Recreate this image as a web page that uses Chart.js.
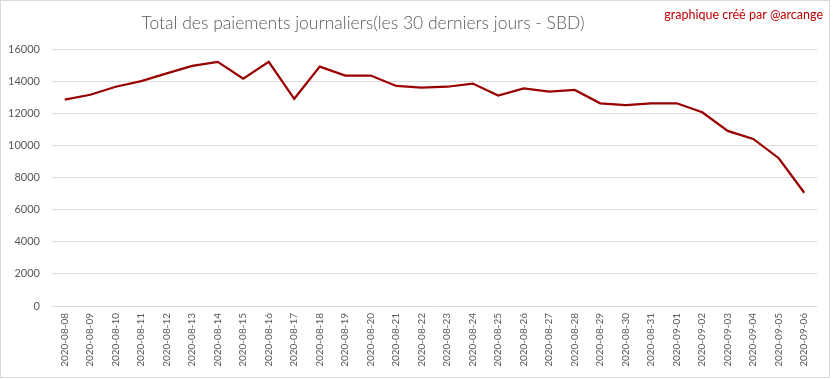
<!DOCTYPE html>
<html><head><meta charset="utf-8">
<script src="https://cdn.jsdelivr.net/npm/chart.js@4/dist/chart.umd.min.js"></script>
<style>html,body{margin:0;padding:0;background:#fff}canvas{display:block}</style>
</head><body>
<canvas id="c" width="833" height="379"></canvas>
<script>
const dates = ["2020-08-08","2020-08-09","2020-08-10","2020-08-11","2020-08-12","2020-08-13","2020-08-14","2020-08-15","2020-08-16","2020-08-17","2020-08-18","2020-08-19","2020-08-20","2020-08-21","2020-08-22","2020-08-23","2020-08-24","2020-08-25","2020-08-26","2020-08-27","2020-08-28","2020-08-29","2020-08-30","2020-08-31","2020-09-01","2020-09-02","2020-09-03","2020-09-04","2020-09-05","2020-09-06"];
const payments = [12850,13150,13650,14000,14480,14950,15200,14150,15200,12900,14900,14350,14350,13700,13600,13650,13850,13100,13550,13350,13450,12620,12500,12620,12620,12060,10900,10400,9200,7050];
const yMin = 0, yMax = 16000, yStep = 2000;
const titleText = "Total des paiements journaliers(les 30 derniers jours - SBD)";
const creditText = "graphique créé par @arcange";

const decor = {
  id: 'decor',
  beforeDraw(chart) {
    const ctx = chart.ctx;
    ctx.save();
    ctx.fillStyle = '#ffffff';
    ctx.fillRect(0, 0, chart.width, chart.height);
    ctx.strokeStyle = '#d9d9d9';
    ctx.lineWidth = 1;
    ctx.strokeRect(0.5, 0.5, 829, 377);
    ctx.restore();
  },
  afterDraw(chart) {
    const ctx = chart.ctx;
    ctx.save();
    ctx.fillStyle = '#595959';
    ctx.font = '300 17.5px Lato';
    ctx.textAlign = 'center';
    ctx.textBaseline = 'alphabetic';
    ctx.fillText(titleText, 363, 29);
    ctx.fillStyle = '#c00000';
    ctx.font = '12.5px Lato';
    ctx.textAlign = 'right';
    ctx.fillText(creditText, 823, 19);
    ctx.restore();
  }
};

new Chart(document.getElementById('c'), {
  type: 'line',
  data: {
    labels: dates,
    datasets: [{
      data: payments,
      borderColor: '#990000',
      borderWidth: 2.25,
      pointRadius: 0,
      tension: 0,
      fill: false
    }]
  },
  options: {
    responsive: false,
    animation: false,
    layout: { padding: { top: 49, right: 16, left: 0, bottom: 0 } },
    plugins: { legend: { display: false }, tooltip: { enabled: false }, title: { display: false } },
    scales: {
      x: {
        offset: true,
        grid: { display: false, drawTicks: false },
        border: { display: false },
        ticks: { maxRotation: 90, minRotation: 90, autoSkip: false, color: '#595959', font: { family: 'Lato', size: 10 }, padding: 7 },
        afterFit(s) { s.height = 73; }
      },
      y: {
        min: yMin, max: yMax,
        grid: { color: '#d9d9d9', drawTicks: false },
        border: { display: false },
        ticks: { stepSize: yStep, color: '#595959', font: { family: 'Lato', size: 11 }, padding: 12, callback: (v) => String(v) },
        afterFit(s) { s.width = 52; }
      }
    }
  },
  plugins: [decor]
});
</script>
</body></html>
